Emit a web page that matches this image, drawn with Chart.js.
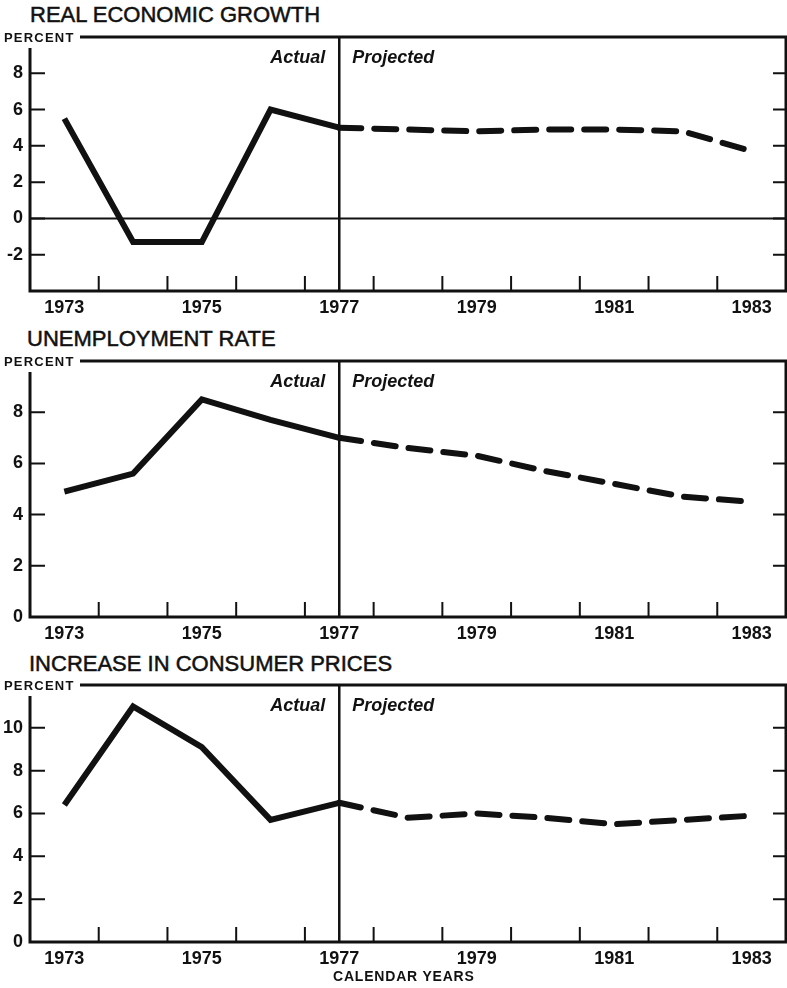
<!DOCTYPE html>
<html>
<head>
<meta charset="utf-8">
<script src="https://cdn.jsdelivr.net/npm/chart.js@4.4.0/dist/chart.umd.min.js"></script>
<style>
    body { margin: 0; background: #fff; width: 787px; height: 988px; position: relative; overflow: hidden; font-family: "Liberation Sans", Arial, sans-serif; color: #111; }
    .title { position: absolute; font-size: 22px; line-height: 22px; white-space: nowrap; -webkit-text-stroke: 0.5px #111; }
    .panel { position: absolute; left: 0; width: 787px; }
    .xtitle { position: absolute; left: 333px; top: 968px; font-size: 14px; font-weight: bold; letter-spacing: 0.8px; white-space: nowrap; }
</style>
</head>
<body>
<div class="title" style="left:30px;top:4px">REAL ECONOMIC GROWTH</div>
<div class="title" style="left:27px;top:328px">UNEMPLOYMENT RATE</div>
<div class="title" style="left:29px;top:653px">INCREASE IN CONSUMER PRICES</div>
<div class="panel" style="top:0;height:322px"><canvas id="growth"></canvas></div>
<div class="panel" style="top:322px;height:328px"><canvas id="unemployment"></canvas></div>
<div class="panel" style="top:650px;height:338px"><canvas id="prices"></canvas></div>
<div class="xtitle">CALENDAR YEARS</div>

<script>
// Years
const actualYears = [1973, 1974, 1975, 1976, 1977];
const projectedYears = [1977, 1978, 1979, 1980, 1981, 1982, 1983];
const xLabelYears = [1973, 1975, 1977, 1979, 1981, 1983];
const yearBoundaries = [1973.5, 1974.5, 1975.5, 1976.5, 1977.5, 1978.5, 1979.5, 1980.5, 1981.5, 1982.5];
const dividerYear = 1977;

// Real economic growth, percent
const growthActual = [5.5, -1.3, -1.3, 6.0, 5.0];
const growthProjected = [5.0, 4.9, 4.8, 4.9, 4.9, 4.8, 3.7];
const growthTicks = [-2, 0, 2, 4, 6, 8];

// Unemployment rate, percent
const unempActual = [4.9, 5.6, 8.5, 7.7, 7.0];
const unempProjected = [7.0, 6.6, 6.3, 5.7, 5.2, 4.7, 4.5];
const unempTicks = [0, 2, 4, 6, 8];

// Increase in consumer prices, percent
const pricesActual = [6.4, 11.0, 9.1, 5.7, 6.5];
const pricesProjected = [6.5, 5.8, 6.0, 5.8, 5.5, 5.7, 5.9];
const pricesTicks = [0, 2, 4, 6, 8, 10];

const INK = '#111';

// frame, inward ticks, divider and labels
const framePlugin = {
    id: 'frame',
    afterDraw(chart, args, opts) {
        const { ctx, chartArea: a, scales: { x, y } } = chart;
        ctx.save();
        ctx.strokeStyle = INK;
        ctx.fillStyle = INK;

        // zero line
        if (y.min < 0) {
            const zy = y.getPixelForValue(0);
            ctx.lineWidth = 2;
            ctx.beginPath();
            ctx.moveTo(a.left, zy);
            ctx.lineTo(a.right, zy);
            ctx.stroke();
        }

        // frame
        ctx.lineWidth = 3;
        ctx.lineJoin = 'miter';
        ctx.beginPath();
        ctx.moveTo(80, a.top);
        ctx.lineTo(a.right, a.top);
        ctx.lineTo(a.right, a.bottom);
        ctx.lineTo(a.left, a.bottom);
        ctx.lineTo(a.left, a.top + 11);
        ctx.stroke();

        // tick marks
        ctx.lineWidth = 2;
        ctx.beginPath();
        opts.yTicks.forEach(v => {
            const py = y.getPixelForValue(v);
            ctx.moveTo(a.left, py);
            ctx.lineTo(a.left + 15, py);
            ctx.moveTo(a.right, py);
            ctx.lineTo(a.right - 13, py);
        });
        yearBoundaries.forEach(v => {
            const px = x.getPixelForValue(v);
            ctx.moveTo(px, a.bottom);
            ctx.lineTo(px, a.bottom - 15);
        });
        ctx.stroke();

        // actual / projected divider
        const dx = x.getPixelForValue(dividerYear);
        ctx.lineWidth = 2.5;
        ctx.beginPath();
        ctx.moveTo(dx, a.top);
        ctx.lineTo(dx, a.bottom);
        ctx.stroke();

        ctx.font = 'italic bold 18px "Liberation Sans", Arial, sans-serif';
        ctx.textBaseline = 'alphabetic';
        ctx.textAlign = 'right';
        ctx.fillText('Actual', dx - 14, a.top + 26);
        ctx.textAlign = 'left';
        ctx.fillText('Projected', dx + 13, a.top + 26);

        // PERCENT label
        ctx.font = 'bold 13px "Liberation Sans", Arial, sans-serif';
        ctx.letterSpacing = '1.2px';
        ctx.fillText('PERCENT', 4, a.top + 5);
        ctx.restore();
    }
};

function makePanel(id, actual, projected, yMin, yMax, yTicks, topPad, axisHeight) {
    const ctx = document.getElementById(id).getContext('2d');
    return new Chart(ctx, {
        type: 'line',
        data: {
            datasets: [{
                data: actualYears.map((yr, i) => ({ x: yr, y: actual[i] })),
                borderColor: INK,
                borderWidth: 6,
                borderJoinStyle: 'miter',
                pointRadius: 0,
                tension: 0
            }, {
                data: projectedYears.map((yr, i) => ({ x: yr, y: projected[i] })),
                borderColor: INK,
                borderWidth: 6,
                borderDash: [22, 13],
                borderCapStyle: 'round',
                pointRadius: 0,
                tension: 0
            }]
        },
        options: {
            responsive: true,
            maintainAspectRatio: false,
            animation: false,
            layout: { padding: { top: topPad, right: 1, left: 0, bottom: 0 } },
            plugins: {
                legend: { display: false },
                tooltip: { enabled: false },
                frame: { yTicks: yTicks }
            },
            scales: {
                x: {
                    type: 'linear',
                    min: 1972.5,
                    max: 1983.5,
                    afterBuildTicks: s => { s.ticks = xLabelYears.map(v => ({ value: v })); },
                    afterFit: s => { s.height = axisHeight; },
                    grid: { display: false, drawTicks: false },
                    border: { display: false },
                    ticks: {
                        autoSkip: false,
                        maxRotation: 0,
                        padding: 6,
                        color: INK,
                        font: { family: '"Liberation Sans", Arial, sans-serif', size: 18, weight: 'bold' },
                        callback: v => String(v)
                    }
                },
                y: {
                    min: yMin,
                    max: yMax,
                    afterBuildTicks: s => { s.ticks = yTicks.map(v => ({ value: v })); },
                    afterFit: s => { s.width = 30; },
                    grid: { display: false, drawTicks: false },
                    border: { display: false },
                    ticks: {
                        padding: 7,
                        color: INK,
                        font: { family: '"Liberation Sans", Arial, sans-serif', size: 18, weight: 'bold' }
                    }
                }
            }
        },
        plugins: [framePlugin]
    });
}

makePanel('growth', growthActual, growthProjected, -4, 10, growthTicks, 37, 31);
makePanel('unemployment', unempActual, unempProjected, 0, 10, unempTicks, 39, 33);
makePanel('prices', pricesActual, pricesProjected, 0, 12, pricesTicks, 35, 46);
</script>
</body>
</html>
